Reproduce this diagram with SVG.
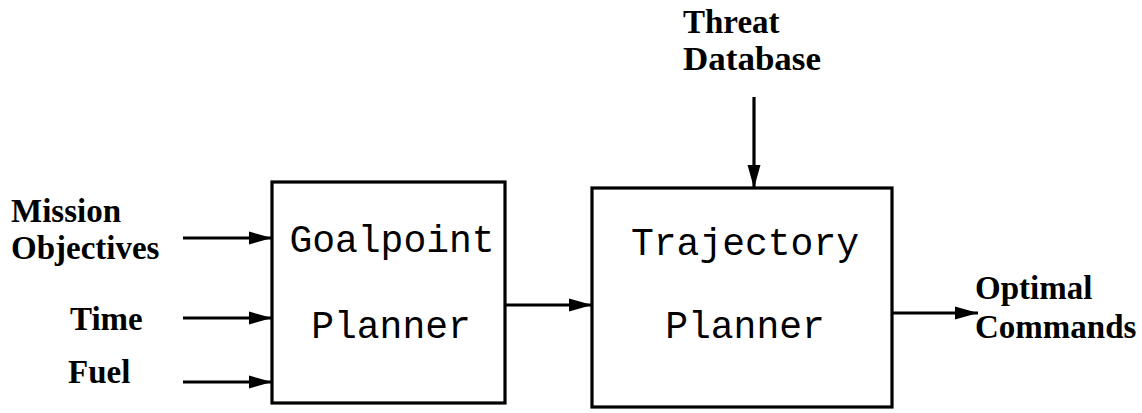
<svg xmlns="http://www.w3.org/2000/svg" width="1142" height="413" viewBox="0 0 1142 413">
<defs>
<marker id="ah" markerUnits="userSpaceOnUse" markerWidth="23" markerHeight="14" refX="23" refY="7" orient="auto" viewBox="0 0 23 14">
<path d="M0,0.5 L23,7 L0,13.5 Z" fill="#000"/>
</marker>
</defs>
<style>
.box{fill:#fff;stroke:#000;stroke-width:3.2}
.mono{font-family:"Liberation Mono","Courier New",monospace;font-size:38px;fill:#000;text-anchor:middle}
.lbl{font-family:"Liberation Serif","Times New Roman",serif;font-weight:bold;font-size:33px;fill:#000}
.con{stroke:#000;stroke-width:3.2;fill:none;marker-end:url(#ah)}
</style>
<rect width="1142" height="413" fill="#fff"/>
<g id="goalpoint">
<rect class="box" x="272" y="182" width="233" height="221"/>
<text class="mono" x="392" y="252">Goalpoint</text>
<text class="mono" x="391" y="338">Planner</text>
</g>
<g id="trajectory">
<rect class="box" x="592" y="188" width="300" height="219"/>
<text class="mono" x="745" y="255">Trajectory</text>
<text class="mono" x="745" y="338">Planner</text>
</g>
<g id="mission-label">
<text class="lbl" x="11" y="222">Mission</text>
<text class="lbl" x="11" y="259">Objectives</text>
</g>
<g id="time-label">
<text class="lbl" x="70" y="330">Time</text>
</g>
<g id="fuel-label">
<text class="lbl" x="68" y="383">Fuel</text>
</g>
<g id="threat-label">
<text class="lbl" x="683" y="33">Threat</text>
<text class="lbl" x="683" y="70" textLength="138" lengthAdjust="spacingAndGlyphs">Database</text>
</g>
<g id="output-label">
<text class="lbl" x="975" y="299">Optimal</text>
<text class="lbl" x="975" y="338">Commands</text>
</g>
<g id="connectors">
<line class="con" x1="183" y1="238" x2="272" y2="238"/>
<line class="con" x1="183" y1="318" x2="272" y2="318"/>
<line class="con" x1="183" y1="382" x2="272" y2="382"/>
<line class="con" x1="505" y1="305" x2="592" y2="305"/>
<line class="con" x1="754" y1="97" x2="754" y2="188"/>
<line class="con" x1="892" y1="313" x2="978" y2="313"/>
</g>
</svg>
